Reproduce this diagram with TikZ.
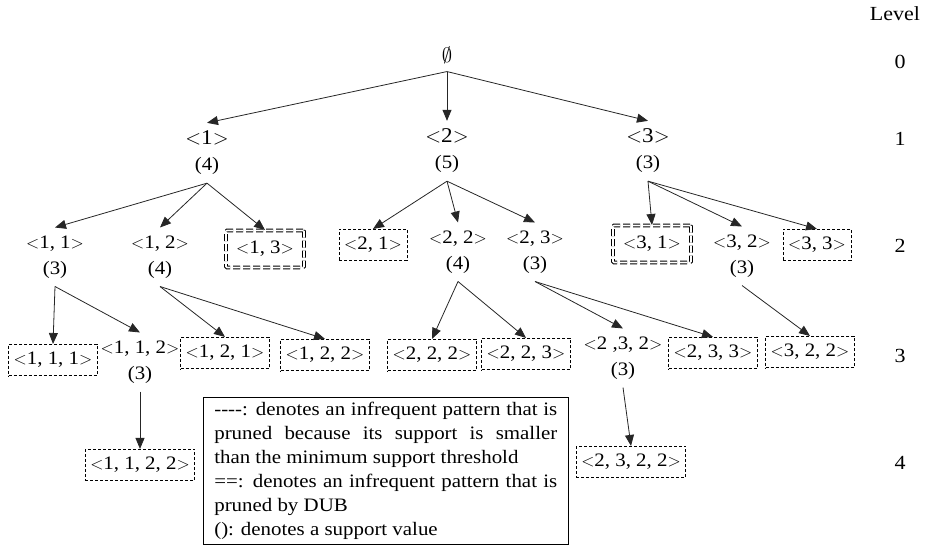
\documentclass[tikz,border=0pt]{standalone}
\usepackage{fontspec}
\setmainfont[FakeStretch=1.1]{Liberation Serif}
\usetikzlibrary{arrows.meta}
\newcommand{\seq}[1]{$<$#1$>$}
\begin{document}
\begin{tikzpicture}[x=1pt, y=-1pt,
        % Estilo para los patrones frecuentes (patrón y soporte)
        pat/.style={font=\fontsize{19}{26}\selectfont, align=center, inner ysep=8pt},
        % Estilo para los patrones del nivel 1
        first/.style={font=\fontsize{21}{26}\selectfont, align=center, inner ysep=8pt},
        % Estilo para los patrones podados por soporte
        pruned/.style={draw, line width=0.6pt, dash pattern=on 3pt off 2pt, font=\fontsize{19}{22}\selectfont, inner xsep=5pt, inner ysep=8pt},
        % Estilo para los patrones podados por DUB
        dub/.style={pruned, line width=1pt, dash pattern=on 7pt off 3pt, rounded corners=1pt,
                    double, double distance=1.6pt, minimum width=78pt, minimum height=37pt},
        % Estilo para las flechas
        arr/.style={draw=black!85, line width=0.8pt, -{Triangle[length=11pt,width=9pt]}},
        % Estilo para los niveles
        level/.style={font=\fontsize{20}{22}\selectfont}
    ]
        \useasboundingbox (0,0) rectangle (928,554);

        % --- Raíz ---
        \node[first] (root) at (447,55) {$\emptyset$};

        % --- Nivel 1 ---
        \node[first] (n1) at (207,153) {\seq{1}\\{\fontsize{19}{26}\selectfont (4)}};
        \node[first] (n2) at (447,151) {\seq{2}\\{\fontsize{19}{26}\selectfont (5)}};
        \node[first] (n3) at (648,151) {\seq{3}\\{\fontsize{19}{26}\selectfont (3)}};

        % --- Nivel 2 ---
        \node[pat] (n11) at (55,257) {\seq{1, 1}\\(3)};
        \node[pat] (n12) at (160,257) {\seq{1, 2}\\(4)};
        \node[dub] (n13) at (265,249) {\seq{1, 3}};
        \node[pruned] (n21) at (373,245) {\seq{2, 1}};
        \node[pat] (n22) at (458,252) {\seq{2, 2}\\(4)};
        \node[pat] (n23) at (535,252) {\seq{2, 3}\\(3)};
        \node[dub] (n31) at (652,244) {\seq{3, 1}};
        \node[pat] (n32) at (742,256) {\seq{3, 2}\\(3)};
        \node[pruned] (n33) at (817,245) {\seq{3, 3}};

        % --- Nivel 3 ---
        \node[pruned] (n111) at (53,360) {\seq{1, 1, 1}};
        \node[pat] (n112) at (140,362) {\seq{1, 1, 2}\\(3)};
        \node[pruned] (n121) at (225,353) {\seq{1, 2, 1}};
        \node[pruned] (n122) at (325,355) {\seq{1, 2, 2}};
        \node[pruned] (n222) at (432,355) {\seq{2, 2, 2}};
        \node[pruned] (n223) at (526,354) {\seq{2, 2, 3}};
        \node[pat] (n232) at (623,358) {\seq{2 ,3, 2}\\(3)};
        \node[pruned] (n233) at (713,353) {\seq{2, 3, 3}};
        \node[pruned] (n322) at (810,352) {\seq{3, 2, 2}};

        % --- Nivel 4 ---
        \node[pruned] (n1122) at (140,465) {\seq{1, 1, 2, 2}};
        \node[pruned] (n2322) at (631,462) {\seq{2, 3, 2, 2}};

        % --- Flechas ---
        \draw[arr] (root.south) -- (n1.north);
        \draw[arr] (root.south) -- (n2.north);
        \draw[arr] (root.south) -- (n3.north);

        \draw[arr] (n1.south) -- (n11.north);
        \draw[arr] (n1.south) -- (n12.north);
        \draw[arr] (n1.south) -- (n13.north);
        \draw[arr] (n2.south) -- (n21.north);
        \draw[arr] (n2.south) -- (n22.north);
        \draw[arr] (n2.south) -- (n23.north);
        \draw[arr] (n3.south) -- (n31.north);
        \draw[arr] (n3.south) -- (n32.north);
        \draw[arr] (n3.south) -- (n33.north);

        \draw[arr] (n11.south) -- (n111.north);
        \draw[arr] (n11.south) -- (n112.north);
        \draw[arr] (n12.south) -- (n121.north);
        \draw[arr] (n12.south) -- (n122.north);
        \draw[arr] (n22.south) -- (n222.north);
        \draw[arr] (n22.south) -- (n223.north);
        \draw[arr] (n23.south) -- (n232.north);
        \draw[arr] (n23.south) -- (n233.north);
        \draw[arr] (n32.south) -- (n322.north);

        \draw[arr] (n112.south) -- (n1122.north);
        \draw[arr] (n232.south) -- (n2322.north);

        % --- Niveles ---
        \node[level] (lv) at (895,14) {Level};
        \node[level] (lv0) at (900,62) {0};
        \node[level] (lv1) at (900,139) {1};
        \node[level] (lv2) at (900,246) {2};
        \node[level] (lv3) at (900,356) {3};
        \node[level] (lv4) at (900,463) {4};

        % --- Leyenda ---
        \node[draw, line width=0.6pt, anchor=north west, text width=343pt, inner xsep=11pt, inner ysep=5pt,
              align=justify, font=\fontsize{19}{24}\selectfont] (key) at (203,397)
            {-{}-{}-{}-: denotes an infrequent pattern that is\linebreak pruned because its support is smaller\linebreak than the minimum support threshold\par
             ==: denotes an infrequent pattern that is\linebreak pruned by DUB\par
             (): denotes a support value\par\vspace{20pt}};
    \end{tikzpicture}
\end{document}
